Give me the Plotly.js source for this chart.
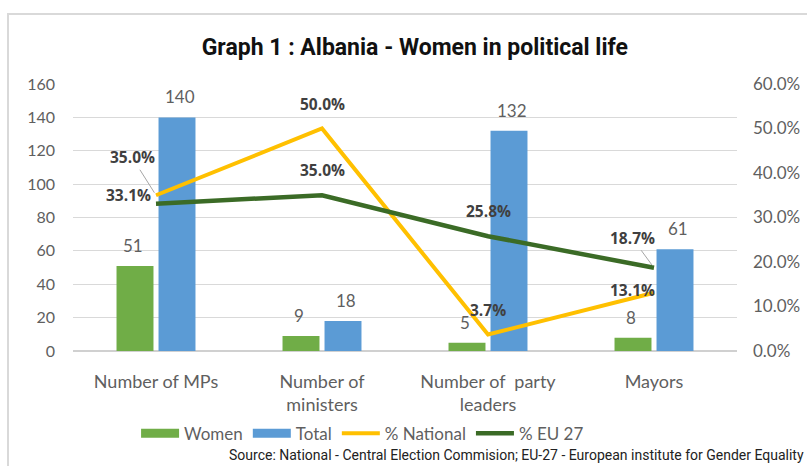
<!DOCTYPE html>
<html>
<head>
<meta charset="utf-8">
<script src="https://cdn.plot.ly/plotly-3.0.1.min.js"></script>
<style>
  html, body { margin: 0; padding: 0; background: #fff; }
  #wrap { position: relative; width: 807px; height: 466px; overflow: hidden; }
  #chart { position: absolute; left: 0; top: 0; width: 807px; height: 466px; }
  #frame { position: absolute; left: 7px; top: 13px; width: 820px; height: 470px;
           border-top: 2px solid #d9d9d9; border-left: 2px solid #d9d9d9; pointer-events: none; }
</style>
</head>
<body>
<div id="wrap"><div id="chart"></div><div id="frame"></div></div>
<script>
// ---- data ----
const categories = ["Number of MPs", "Number of<br>ministers", "Number of  party<br>leaders", "Mayors"];
const women = [51, 9, 5, 8];
const total = [140, 18, 132, 61];
const pctNational = [0.35, 0.50, 0.037, 0.131];
const pctEU27 = [0.331, 0.35, 0.258, 0.187];
const leftTicks = [0, 20, 40, 60, 80, 100, 120, 140, 160];
const rightTicks = [0, 0.1, 0.2, 0.3, 0.4, 0.5, 0.6];
const titleText = "Graph 1 : Albania - Women in political life";
const sourceText = "Source: National - Central Election Commision; EU-27 - European institute for Gender Equality";

// ---- styles ----
const cGreen = "#70AD47", cBlue = "#5B9BD5", cYellow = "#FFC000", cDark = "#3B6B26";
const grey = "#5f5f5f";
const tickFont = { family: "Lato, 'Open Sans', sans-serif", size: 16, color: grey };

// label placement offsets (pixels) for line labels
const natOffsets = [ {arrow: true, ax: -24, ay: -38}, {dx: 0, dy: 25}, {dx: 0, dy: 25}, {dx: -22, dy: 3} ];
const euOffsets  = [ {dx: -28, dy: 9}, {dx: 0, dy: 25}, {dx: 0, dy: 25}, {arrow: true, ax: -22, ay: -30} ];

const traces = [
  { type: "bar", name: "Women", x: categories, y: women, marker: { color: cGreen },
    showlegend: false, hoverinfo: "skip" },
  { type: "bar", name: "Total", x: categories, y: total, marker: { color: cBlue },
    showlegend: false, hoverinfo: "skip" },
  { type: "scatter", mode: "lines", name: "% National", x: categories, y: pctNational, yaxis: "y2",
    line: { color: cYellow, width: 4 }, showlegend: false },
  { type: "scatter", mode: "lines", name: "% EU 27", x: categories, y: pctEU27, yaxis: "y2",
    line: { color: cDark, width: 4.5 }, showlegend: false },
  // legend proxies
  { type: "scatter", mode: "lines", name: "Women", x: [null], y: [null], line: { color: cGreen, width: 9 } },
  { type: "scatter", mode: "lines", name: "Total", x: [null], y: [null], line: { color: cBlue, width: 9 } },
  { type: "scatter", mode: "lines", name: "% National", x: [null], y: [null], line: { color: cYellow, width: 4 } },
  { type: "scatter", mode: "lines", name: "% EU 27", x: [null], y: [null], line: { color: cDark, width: 4.5 } }
];

const annotations = [];
const barLabelFont = { family: "Lato, 'Open Sans', sans-serif", size: 17, color: grey };
categories.forEach((c, i) => {
  annotations.push({ x: c, y: women[i], xref: "x", yref: "y", text: String(women[i]), showarrow: false,
    xshift: -23, yanchor: "bottom", yshift: 8, font: barLabelFont });
  annotations.push({ x: c, y: total[i], xref: "x", yref: "y", text: String(total[i]), showarrow: false,
    xshift: 24, yanchor: "bottom", yshift: 8, font: barLabelFont });
});
const lineLabelFont = { family: "'Open Sans', 'DejaVu Sans', sans-serif", size: 15.5, color: "#404040", weight: "bold" };
function pushLineLabels(vals, offs) {
  categories.forEach((c, i) => {
    const o = offs[i];
    const base = { x: c, y: vals[i], xref: "x", yref: "y2", text: (vals[i] * 100).toFixed(1) + "%", font: lineLabelFont };
    if (o.arrow) {
      Object.assign(base, { showarrow: true, ax: o.ax, ay: o.ay, arrowhead: 0, arrowwidth: 1, arrowcolor: "#a6a6a6", standoff: 3 });
    } else {
      Object.assign(base, { showarrow: false, xshift: o.dx, yshift: o.dy });
    }
    annotations.push(base);
  });
}
pushLineLabels(pctNational, natOffsets);
pushLineLabels(pctEU27, euOffsets);
annotations.push({ xref: "paper", yref: "paper", x: 1.104, y: -0.39, xanchor: "right", yanchor: "middle",
  text: sourceText, showarrow: false, font: { family: "Roboto, sans-serif", size: 14, color: "#222" } });

const layout = {
  width: 807, height: 466,
  margin: { l: 73, r: 70, t: 84, b: 115 },
  paper_bgcolor: "rgba(0,0,0,0)", plot_bgcolor: "#fff",
  title: { text: titleText, x: 0.514, xanchor: "center", y: 0.899, yanchor: "middle", yref: "container",
    font: { family: "Roboto, sans-serif", size: 23, color: "#111", weight: "bold" } },
  barmode: "group", bargap: 0.494, bargroupgap: 0.12,
  xaxis: { type: "category", tickfont: { family: "Lato, 'Open Sans', sans-serif", size: 18, color: grey },
    ticks: "", ticklabelstandoff: 18, showline: false, showgrid: false },
  yaxis: { range: [0, 160], tickvals: leftTicks, tickfont: tickFont, gridcolor: "#d9d9d9", gridwidth: 1,
    zeroline: true, zerolinecolor: "#d0d0d0", zerolinewidth: 1.5, ticks: "", ticklabelstandoff: 17, showline: false },
  yaxis2: { range: [0, 0.6], tickvals: rightTicks, tickformat: ".1%", overlaying: "y", side: "right",
    tickfont: { family: "Lato, 'Open Sans', sans-serif", size: 17, color: grey }, showgrid: false, zeroline: false, ticks: "", ticklabelstandoff: 15 },
  legend: { orientation: "h", x: 0.095, xanchor: "left", y: -0.31, yanchor: "middle",
    font: { family: "Lato, 'Open Sans', sans-serif", size: 17, color: grey }, itemwidth: 38, tracegroupgap: 0,
    bgcolor: "rgba(0,0,0,0)" },
  annotations: annotations,
  showlegend: true
};

Plotly.newPlot("chart", traces, layout, { displayModeBar: false, staticPlot: true });
</script>
</body>
</html>
